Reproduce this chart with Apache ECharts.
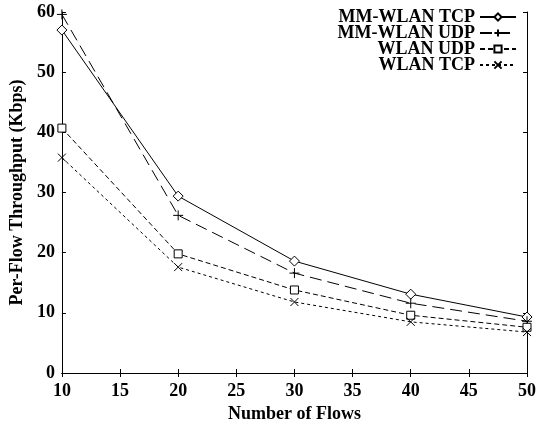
<!DOCTYPE html>
<html>
<head>
<meta charset="utf-8">
<script src="https://cdn.jsdelivr.net/npm/echarts@6/dist/echarts.min.js"></script>
<style>
  html, body { margin: 0; padding: 0; background: #fff; }
  #main { width: 539px; height: 428px; }
</style>
</head>
<body>
<div id="main"></div>
<script>
// values
const flows = [10, 20, 30, 40, 50];
const mmWlanTcp = [57.0, 29.4, 18.6, 13.1, 9.3];
const mmWlanUdp = [59.6, 26.2, 16.6, 11.6, 8.6];
const wlanUdp = [40.7, 19.8, 13.8, 9.6, 7.6];
const wlanTcp = [35.8, 17.6, 11.8, 8.5, 6.8];

const font = 'Liberation Serif';
const plusPath = 'path://M5,0L5,10M0,5L10,5';
const crossPath = 'path://M0,0L10,10M10,0L0,10';

const toPairs = arr => arr.map((v, i) => [flows[i], v]);

const makeSeries = (name, data, symbol, size, dash) => ({
    name: name,
    type: 'line',
    data: toPairs(data),
    symbol: symbol,
    symbolSize: size,
    showAllSymbol: true,
    lineStyle: { color: '#000', width: 1, type: dash },
    itemStyle: { color: '#fff', borderColor: '#000', borderWidth: 1 },
    emphasis: { disabled: true }
});

const labelStyle = { fontFamily: font, fontWeight: 'bold', fontSize: 18, color: '#000' };

const chart = echarts.init(document.getElementById('main'));

const option = {
    backgroundColor: '#ffffff',
    animation: false,
    grid: { left: 55, right: 8, top: 12, bottom: 54 },
    legend: {
        right: 22,
        top: 8,
        padding: 0,
        orient: 'vertical',
        align: 'right',
        itemWidth: 36,
        itemHeight: 9,
        itemGap: -2,
        textStyle: { fontFamily: font, fontWeight: 'bold', fontSize: 18, lineHeight: 16, color: '#000' },
        data: ['MM-WLAN TCP', 'MM-WLAN UDP', 'WLAN UDP', 'WLAN TCP']
    },
    xAxis: [
        {
            type: 'value',
            min: 10,
            max: 50,
            interval: 5,
            name: 'Number of Flows',
            nameLocation: 'middle',
            nameGap: 32,
            nameTextStyle: labelStyle,
            axisLine: { lineStyle: { color: '#000', width: 1 } },
            axisTick: { inside: true, length: 4, lineStyle: { color: '#000' } },
            axisLabel: Object.assign({ margin: 9 }, labelStyle),
            splitLine: { show: false }
        },
        {
            type: 'value',
            position: 'top',
            min: 10,
            max: 50,
            interval: 5,
            axisLine: { lineStyle: { color: '#000', width: 1 } },
            axisTick: { inside: true, length: 4, lineStyle: { color: '#000' } },
            axisLabel: { show: false },
            splitLine: { show: false }
        }
    ],
    yAxis: [
        {
            type: 'value',
            min: 0,
            max: 60,
            interval: 10,
            name: 'Per-Flow Throughput (Kbps)',
            nameLocation: 'middle',
            nameGap: 33,
            nameTextStyle: labelStyle,
            axisLine: { show: true, lineStyle: { color: '#000', width: 1 } },
            axisTick: { show: true, inside: true, length: 4, lineStyle: { color: '#000' } },
            axisLabel: Object.assign({ margin: 7 }, labelStyle),
            splitLine: { show: false }
        },
        {
            type: 'value',
            position: 'right',
            min: 0,
            max: 60,
            interval: 10,
            axisLine: { show: true, lineStyle: { color: '#000', width: 1 } },
            axisTick: { show: true, inside: true, length: 4, lineStyle: { color: '#000' } },
            axisLabel: { show: false },
            splitLine: { show: false }
        }
    ],
    series: [
        makeSeries('MM-WLAN TCP', mmWlanTcp, 'diamond', 10, 'solid'),
        makeSeries('MM-WLAN UDP', mmWlanUdp, plusPath, 10, [12, 6]),
        makeSeries('WLAN UDP', wlanUdp, 'rect', 8, [5, 3]),
        makeSeries('WLAN TCP', wlanTcp, crossPath, 8, [3, 3])
    ]
};

chart.setOption(option);
</script>
</body>
</html>
